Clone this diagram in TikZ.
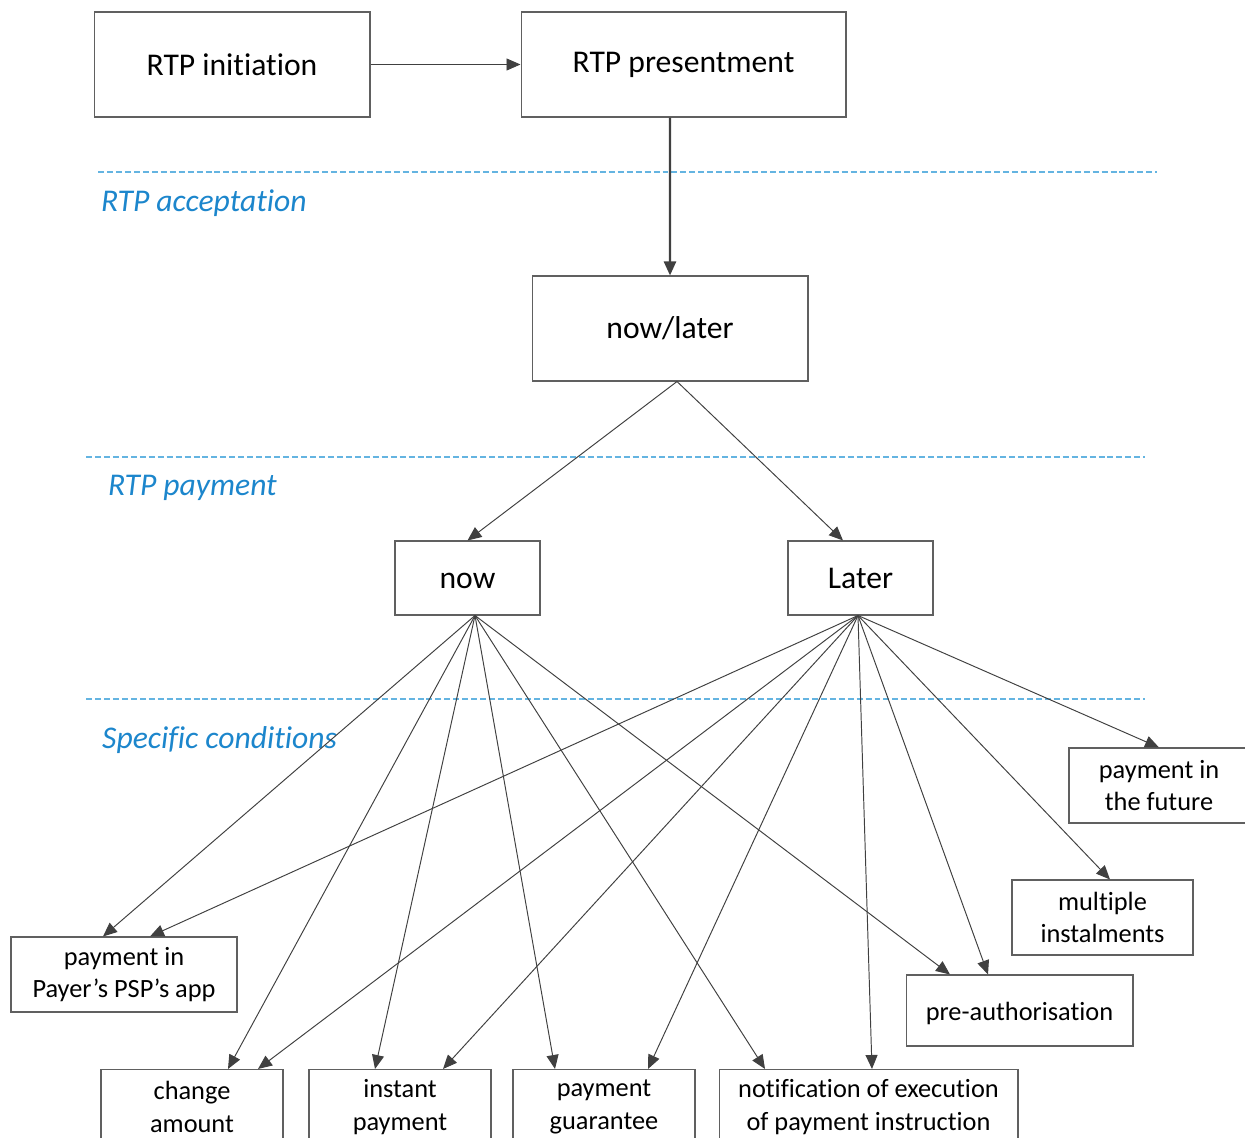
\documentclass[tikz,border=0pt]{standalone}
\usepackage{fontspec}
\setmainfont[Ligatures=NoCommon]{Carlito}
\usepackage{tikz}
\usepackage{xcolor}
\usetikzlibrary{arrows.meta, positioning}
\definecolor{rtpblue}{RGB}{28, 134, 204}
\definecolor{rtpdash}{RGB}{100, 180, 225}
\definecolor{rtpgray}{RGB}{64, 64, 64}
\tikzstyle{bigbox} = [rectangle, draw=gray!75!black, line width=0.6pt, minimum width=5.52cm, minimum height=2.1cm, text centered, font=\fontsize{18}{22}\selectfont]
\tikzstyle{midbox} = [rectangle, draw=gray!75!black, line width=0.6pt, minimum width=2.9cm, minimum height=1.48cm, text height=11.6pt, text depth=0pt, text centered, font=\fontsize{18}{22}\selectfont]
\tikzstyle{smallbox} = [rectangle, draw=gray!75!black, line width=0.6pt, minimum width=3.64cm, minimum height=1.5cm, align=center, font=\fontsize{15}{18.3}\selectfont]
\tikzstyle{phase} = [rtpblue, anchor=west, font=\fontsize{18}{22}\selectfont\itshape]
\tikzstyle{divider} = [rtpdash, line width=0.6pt, dash pattern=on 3.4pt off 1.7pt]
\tikzstyle{arrow} = [rtpgray, line width=0.55pt, -{Triangle[length=0.28cm, width=0.24cm]}]

\begin{document}
\begin{tikzpicture}[x=0.02cm, y=-0.02cm]
        \clip (0,0) rectangle (1245,1138);
        % Top row
        \node[bigbox] (init) at (232,64.5) {RTP initiation};
        \node[bigbox, minimum width=6.5cm] (pres) at (683.5,64.5) {RTP presentment};
        \node[bigbox] (nowlater) at (670,328.5) {now/later};
        
        % Choice
        \node[midbox] (now) at (467.5,578) {now};
        \node[midbox] (later) at (860.5,578) {Later};
        
        % Conditions
        \node[smallbox, minimum width=4.52cm] (payer) at (124,974.5) {payment in\\Payer’s PSP’s app};
        \node[smallbox] (change) at (192,1107) {change\\amount};
        \node[smallbox] (instant) at (400,1107) {instant\\payment};
        \node[smallbox] (guarantee) at (604,1107) {payment\\guarantee};
        \node[smallbox, minimum width=5.98cm] (notif) at (868.5,1107) {notification of execution\\of payment instruction};
        \node[smallbox, minimum width=4.54cm, minimum height=1.42cm, text height=12pt, text depth=1pt] (preauth) at (1019.5,1010.5) {pre-authorisation};
        \node[smallbox, minimum width=3.62cm] (multi) at (1102.5,917.5) {multiple\\instalments};
        \node[smallbox, minimum width=3.6cm] (future) at (1159,785.5) {payment in\\the future};
        
        % Phases
        \draw[divider] (98,172) -- (1157,172);
        \draw[divider] (86,457) -- (1145,457);
        \draw[divider] (86,699) -- (1145,699);
        \node[phase] (accept) at (95,203) {RTP acceptation};
        \node[phase] (pay) at (102,488) {RTP payment};
        \node[phase] (cond) at (96,740) {Specific conditions};
        
        % Connections
        \draw[arrow] (init) -- (pres);
        \draw[arrow, line width=1.4pt] ([xshift=-0.27cm]pres.south) -- (nowlater.north);
        \coordinate (split) at ([xshift=0.14cm]nowlater.south);
        \draw[arrow] (split) -- (now.north);
        \draw[arrow] (split) -- ([xshift=-0.35cm]later.north);
        
        \coordinate (nowout) at ([xshift=0.15cm]now.south);
        \draw[arrow] (nowout) -- ([xshift=-0.42cm]payer.north);
        \draw[arrow] (nowout) -- ([xshift=0.72cm]change.north);
        \draw[arrow] (nowout) -- ([xshift=-0.5cm]instant.north);
        \draw[arrow] (nowout) -- ([xshift=-0.98cm]guarantee.north);
        \draw[arrow] (nowout) -- ([xshift=-2.07cm]notif.north);
        \draw[arrow] (nowout) -- ([xshift=-1.39cm]preauth.north);
        
        \coordinate (laterout) at ([xshift=-0.05cm]later.south);
        \draw[arrow] (laterout) -- ([xshift=0.52cm]payer.north);
        \draw[arrow] (laterout) -- ([xshift=1.32cm]change.north);
        \draw[arrow] (laterout) -- ([xshift=0.86cm]instant.north);
        \draw[arrow] (laterout) -- ([xshift=0.88cm]guarantee.north);
        \draw[arrow] (laterout) -- ([xshift=0.07cm]notif.north);
        \draw[arrow] (laterout) -- ([xshift=-0.63cm]preauth.north);
        \draw[arrow] (laterout) -- ([xshift=0.15cm]multi.north);
        \draw[arrow] (laterout) -- (future.north);
    \end{tikzpicture}
\end{document}
